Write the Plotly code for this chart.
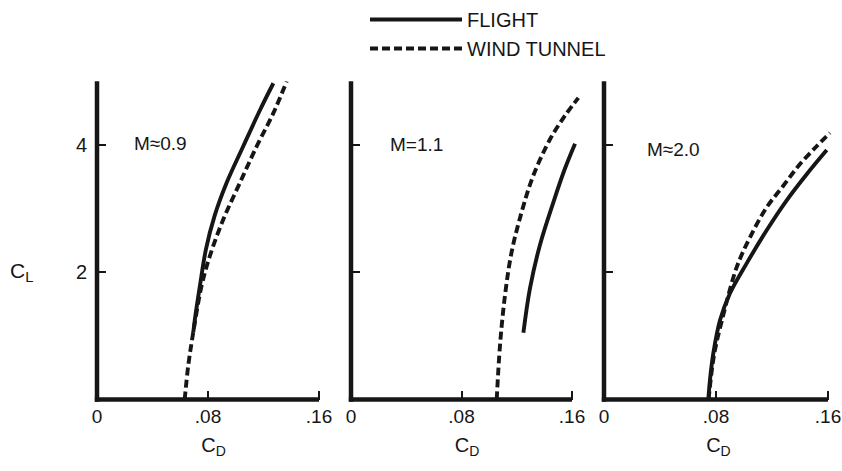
import plotly.graph_objects as go

# ---------------- data ----------------
panel_labels = ["M≈0.9", "M=1.1", "M≈2.0"]
x_tick_vals = [0, 0.08, 0.16]
x_tick_text = ["0", ".08", ".16"]
y_tick_vals = [2, 4]
y_tick_text = ["2", "4"]

# M ~ 0.9
flight_09_cd = [0.0694, 0.0706, 0.0742, 0.0785, 0.0848, 0.0935, 0.1054, 0.1175, 0.1271]
flight_09_cl = [1.06, 1.27, 1.79, 2.36, 2.89, 3.41, 3.98, 4.55, 4.97]
tunnel_09_cd = [0.0632, 0.0658, 0.0694, 0.0754, 0.0814, 0.091, 0.1031, 0.1151, 0.1271, 0.1367]
tunnel_09_cl = [0.0, 0.54, 1.06, 1.79, 2.26, 2.83, 3.41, 3.98, 4.5, 5.0]

# M = 1.1
flight_11_cd = [0.1248, 0.1296, 0.1368, 0.1465, 0.1549, 0.1622]
flight_11_cl = [1.05, 1.75, 2.43, 3.1, 3.63, 4.02]
tunnel_11_cd = [0.1055, 0.1079, 0.1115, 0.1163, 0.1236, 0.132, 0.1441, 0.1549, 0.1646]
tunnel_11_cl = [0.0, 0.86, 1.64, 2.32, 2.95, 3.52, 4.09, 4.46, 4.74]

# M ~ 2.0
flight_20_cd = [0.0745, 0.0757, 0.0781, 0.0829, 0.09, 0.1019, 0.1162, 0.1305, 0.1448, 0.1591]
flight_20_cl = [0.0, 0.31, 0.73, 1.25, 1.67, 2.14, 2.66, 3.13, 3.54, 3.92]
tunnel_20_cd = [0.0747, 0.0786, 0.0843, 0.0948, 0.1043, 0.1162, 0.1281, 0.14, 0.1519, 0.1614]
tunnel_20_cl = [0.0, 0.70, 1.25, 2.08, 2.55, 3.02, 3.36, 3.70, 3.98, 4.19]

flight = [(flight_09_cd, flight_09_cl), (flight_11_cd, flight_11_cl), (flight_20_cd, flight_20_cl)]
tunnel = [(tunnel_09_cd, tunnel_09_cl), (tunnel_11_cd, tunnel_11_cl), (tunnel_20_cd, tunnel_20_cl)]

# ---------------- layout ----------------
W, H = 842, 471
INK = "#161616"
FONT = "Liberation Sans"
X_AXIS_END = 0.16
Y_MAX = 5.0


def px_x(px):                # window pixel -> paper x
    return px / W


def px_y(py):                # window pixel -> paper y
    return 1 - py / H


left_px = [97, 351, 604]
px_per_016 = [222, 221, 224]
x_max = [0.168, 0.168, 0.1635]
y_bottom_px, y_top_px = 399, 78
y_dom = [px_y(y_bottom_px), px_y(y_top_px)]

fig = go.Figure()
for i in range(3):
    sfx = "" if i == 0 else str(i + 1)
    xa, ya = "x" + sfx, "y" + sfx
    fig.add_trace(go.Scatter(
        x=flight[i][0], y=flight[i][1], mode="lines", name="FLIGHT",
        line=dict(color=INK, width=3.9, shape="spline", smoothing=1.0),
        xaxis=xa, yaxis=ya, showlegend=(i == 0), legendrank=1))
    fig.add_trace(go.Scatter(
        x=tunnel[i][0], y=tunnel[i][1], mode="lines", name="WIND TUNNEL",
        line=dict(color=INK, width=3.9, dash="8px,4px", shape="spline", smoothing=1.0),
        xaxis=xa, yaxis=ya, showlegend=(i == 0), legendrank=2))

layout = dict(
    width=W, height=H, template="none",
    paper_bgcolor="white", plot_bgcolor="white",
    margin=dict(l=0, r=0, t=0, b=0),
    font=dict(family=FONT, color=INK, size=19),
    legend=dict(x=px_x(365), y=px_y(-4), xanchor="left", yanchor="top",
                bgcolor="rgba(0,0,0,0)", itemwidth=92, borderwidth=0,
                font=dict(family=FONT, size=20, color=INK)),
    shapes=[], annotations=[],
)

for i in range(3):
    sfx = "" if i == 0 else str(i + 1)
    panel_w = px_per_016[i] * x_max[i] / X_AXIS_END
    a = px_x(left_px[i])
    b = px_x(left_px[i] + panel_w)
    x_end = px_x(left_px[i] + px_per_016[i])
    layout["xaxis" + sfx] = dict(
        domain=[a, b], range=[0, x_max[i]], anchor="y" + sfx,
        showgrid=False, zeroline=False, showline=False,
        tickmode="array", tickvals=x_tick_vals, ticktext=x_tick_text,
        ticks="inside", ticklen=9, tickwidth=1.5, tickcolor=INK,
        tickfont=dict(family=FONT, size=19, color=INK),
        ticklabelstandoff=3,
        title=dict(text="C<sub>D</sub>", standoff=12,
                   font=dict(family=FONT, size=20, color=INK)),
        automargin=False, fixedrange=True,
    )
    layout["yaxis" + sfx] = dict(
        domain=y_dom, range=[0, Y_MAX], anchor="x" + sfx,
        showgrid=False, zeroline=False, showline=False,
        tickmode="array", tickvals=y_tick_vals, ticktext=y_tick_text,
        showticklabels=(i == 0),
        ticks="inside", ticklen=9, tickwidth=1.5, tickcolor=INK,
        tickfont=dict(family=FONT, size=20, color=INK),
        ticklabelstandoff=9,
        automargin=False, fixedrange=True,
    )
    # thick axis lines (paper coordinates)
    layout["shapes"].append(dict(type="line", xref="paper", yref="paper",
                                 x0=a, x1=a, y0=y_dom[0] - 2.2 / H, y1=y_dom[1],
                                 line=dict(color=INK, width=4.5)))
    layout["shapes"].append(dict(type="line", xref="paper", yref="paper",
                                 x0=a - 2.2 / W, x1=x_end,
                                 y0=y_dom[0], y1=y_dom[0],
                                 line=dict(color=INK, width=4.5)))
    layout["annotations"].append(dict(
        text=panel_labels[i], xref="x" + sfx, yref="y" + sfx,
        x=[0.0252, 0.0268, 0.0293][i], y=[4.02, 4.0, 3.93][i],
        xanchor="left", yanchor="middle", showarrow=False,
        font=dict(family=FONT, size=19, color=INK)))

# C_L label, written horizontally as in the reference
layout["annotations"].append(dict(
    text="C<sub>L</sub>", xref="paper", yref="paper",
    x=px_x(8), y=px_y(270), xanchor="left", yanchor="middle",
    showarrow=False, font=dict(family=FONT, size=21, color=INK)))

fig.update_layout(**layout)
# the page body has an 8px default margin; remove it so the figure fills the window
fig.write_html("out.html", config={"displayModeBar": False},
               post_script="document.body.style.margin='0px';")
